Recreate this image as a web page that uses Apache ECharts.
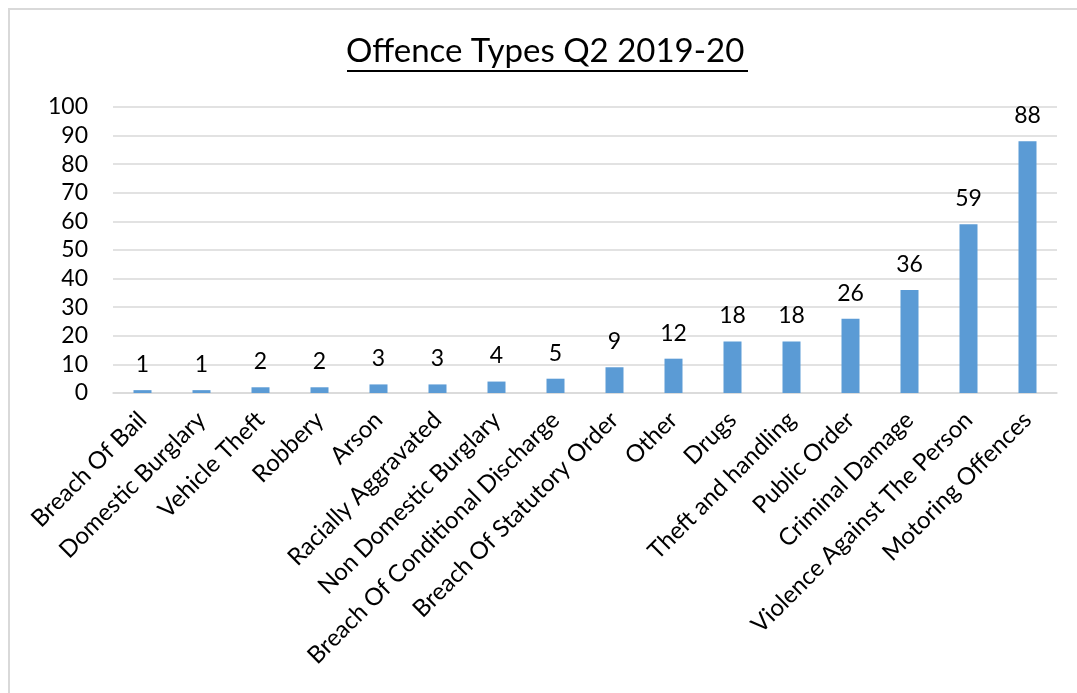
<!DOCTYPE html>
<html>
<head>
<meta charset="utf-8">
<script src="https://cdn.jsdelivr.net/npm/echarts@6/dist/echarts.min.js"></script>
<style>
html,body{margin:0;padding:0;background:#fff;overflow:hidden;}
#wrap{position:relative;width:1077px;height:693px;overflow:hidden;}
#frame{position:absolute;left:8px;top:8px;width:1200px;height:800px;border:2px solid #d9d9d9;box-sizing:border-box;}
#chart{position:absolute;left:0;top:0;width:1077px;height:693px;}
</style>
</head>
<body>
<div id="wrap">
<div id="frame"></div>
<div id="chart"></div>
</div>
<script>
const titleText = 'Offence Types Q2 2019-20';
const categories = ['Breach Of Bail','Domestic Burglary','Vehicle Theft','Robbery','Arson','Racially Aggravated','Non Domestic Burglary','Breach Of Conditional Discharge','Breach Of Statutory Order','Other','Drugs','Theft and handling','Public Order','Criminal Damage','Violence Against The Person','Motoring Offences'];
const values = [1,1,2,2,3,3,4,5,9,12,18,18,26,36,59,88];
const yTicks = [0,10,20,30,40,50,60,70,80,90,100];

const FONT = 'Lato';
const chart = echarts.init(document.getElementById('chart'), null, {renderer:'canvas'});
chart.setOption({
  animation:false,
  backgroundColor:'transparent',
  title:{
    text:titleText,
    left:346,
    top:35,
    padding:0,
    textStyle:{fontFamily:FONT,fontSize:33,fontWeight:'normal',color:'#000'}
  },
  graphic:[{
    type:'rect',
    left:347,
    top:70,
    shape:{width:401,height:2},
    style:{fill:'#000'}
  }],
  grid:{left:113,right:20,top:107,bottom:300,containLabel:false},
  xAxis:{
    type:'category',
    data:categories,
    axisLine:{show:true,lineStyle:{color:'#d9d9d9',width:1.5}},
    axisTick:{show:false},
    axisLabel:{interval:0,rotate:45,margin:23,fontFamily:FONT,fontSize:24,color:'#000'}
  },
  yAxis:{
    type:'value',
    min:yTicks[0],
    max:yTicks[yTicks.length-1],
    interval:yTicks[1]-yTicks[0],
    axisLine:{show:false},
    axisTick:{show:false},
    splitLine:{lineStyle:{color:'#d9d9d9',width:1.5}},
    axisLabel:{margin:25,fontFamily:FONT,fontSize:23,color:'#000'}
  },
  series:[{
    type:'bar',
    data:values,
    barWidth:18,
    itemStyle:{color:'#5b9bd5'},
    label:{show:true,position:'top',distance:14,fontFamily:FONT,fontSize:23,color:'#000'}
  }]
});
</script>
</body>
</html>
